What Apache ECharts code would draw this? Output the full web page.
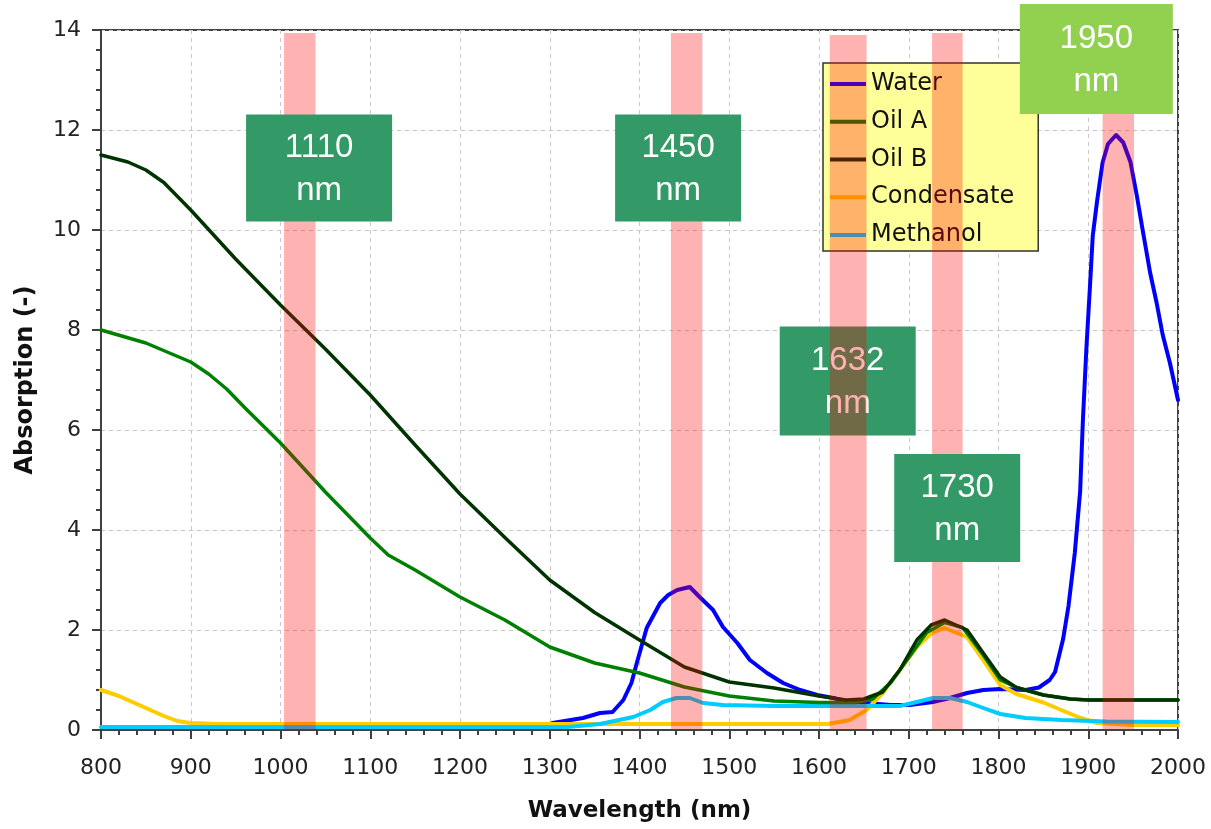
<!DOCTYPE html>
<html>
<head>
<meta charset="utf-8">
<script src="https://cdn.jsdelivr.net/npm/echarts@6/dist/echarts.min.js"></script>
<style>
  html, body { margin: 0; padding: 0; background: #fff; }
  #chart { width: 1211px; height: 829px; }
</style>
</head>
<body>
<div id="chart"></div>
<script>
// 数据
var waterX = [1303, 1337, 1356, 1370, 1382, 1391, 1397, 1408, 1423, 1432, 1442, 1456, 1467, 1482, 1493, 1509, 1523, 1542, 1560, 1579, 1598, 1616, 1634, 1653, 1680, 1701, 1727, 1746, 1765, 1783, 1802, 1830, 1845, 1857, 1863, 1872, 1878, 1885, 1891, 1894, 1898, 1902, 1905, 1910, 1916, 1922, 1931, 1939, 1947, 1954, 1961, 1969, 1976, 1983, 1991, 2000];
var waterY = [0.14, 0.24, 0.34, 0.36, 0.6, 0.94, 1.34, 2.04, 2.54, 2.7, 2.8, 2.86, 2.66, 2.4, 2.06, 1.74, 1.4, 1.14, 0.94, 0.8, 0.7, 0.64, 0.56, 0.54, 0.5, 0.5, 0.56, 0.64, 0.74, 0.8, 0.82, 0.8, 0.85, 1.0, 1.16, 1.82, 2.48, 3.54, 4.78, 6.18, 7.66, 8.9, 9.88, 10.6, 11.35, 11.72, 11.9, 11.75, 11.36, 10.7, 9.96, 9.14, 8.56, 7.9, 7.34, 6.6];

var oilAX = [800, 850, 900, 920, 940, 960, 1000, 1050, 1100, 1120, 1150, 1200, 1250, 1300, 1350, 1400, 1450, 1500, 1550, 1600, 1640, 1660, 1680, 1700, 1720, 1740, 1760, 1783, 1802, 1820, 1850, 1880, 1900, 2000];
var oilAY = [8.0, 7.74, 7.36, 7.12, 6.82, 6.45, 5.74, 4.76, 3.84, 3.5, 3.2, 2.66, 2.2, 1.66, 1.34, 1.14, 0.86, 0.68, 0.58, 0.55, 0.55, 0.62, 0.95, 1.45, 1.95, 2.15, 2.05, 1.5, 1.0, 0.85, 0.7, 0.62, 0.6, 0.6];

var oilBX = [800, 830, 850, 870, 900, 950, 1000, 1050, 1100, 1150, 1200, 1250, 1300, 1350, 1400, 1450, 1500, 1550, 1600, 1630, 1650, 1671, 1690, 1709, 1725, 1740, 1765, 1783, 1802, 1820, 1850, 1880, 1900, 2000];
var oilBY = [11.5, 11.36, 11.2, 10.95, 10.4, 9.42, 8.5, 7.62, 6.7, 5.7, 4.72, 3.85, 3.0, 2.35, 1.8, 1.26, 0.96, 0.84, 0.68, 0.6, 0.62, 0.76, 1.2, 1.8, 2.1, 2.2, 2.0, 1.54, 1.06, 0.85, 0.7, 0.62, 0.6, 0.6];

var condX = [800, 820, 850, 870, 885, 900, 930, 1610, 1634, 1653, 1671, 1690, 1709, 1727, 1740, 1765, 1783, 1802, 1820, 1850, 1870, 1890, 1910, 1950, 2000];
var condY = [0.8, 0.68, 0.44, 0.28, 0.18, 0.14, 0.12, 0.12, 0.2, 0.4, 0.74, 1.2, 1.66, 1.96, 2.04, 1.86, 1.4, 0.9, 0.72, 0.55, 0.4, 0.25, 0.14, 0.1, 0.1];

var methX = [800, 1320, 1356, 1393, 1412, 1426, 1441, 1456, 1471, 1493, 1550, 1690, 1709, 1727, 1746, 1765, 1783, 1802, 1830, 1870, 1920, 2000];
var methY = [0.06, 0.06, 0.12, 0.26, 0.4, 0.56, 0.64, 0.64, 0.54, 0.5, 0.48, 0.48, 0.56, 0.64, 0.64, 0.56, 0.44, 0.32, 0.24, 0.2, 0.17, 0.16];

// 波段 (nm)
var bandStart = [1004, 1435, 1612, 1726, 1916];
var bandEnd = [1039, 1470, 1653, 1760, 1951];
var bandTop = [13.94, 13.94, 13.9, 13.94, 13.94];

// 标注
var annoX = [1043, 1443, 1632, 1754, 1909];
var annoY = [11.24, 11.24, 6.98, 4.44, 13.42];
var annoText = ['1110\nnm', '1450\nnm', '1632\nnm', '1730\nnm', '1950\nnm'];

var xTicks = { min: 800, max: 2000, interval: 100 };
var yTicks = { min: 0, max: 14, interval: 2 };

// 样式
var boxW = [146, 126, 136, 126, 153];
var boxH = [107, 107, 109, 108, 110];
var tickFont = 'Century Gothic, DejaVu Sans, sans-serif';

function zip(xs, ys) {
  return xs.map((x, i) => [x, ys[i]]);
}

function lineSeries(name, xs, ys, color, width) {
  return {
    name,
    type: 'line',
    data: zip(xs, ys),
    showSymbol: false,
    symbol: 'none',
    smooth: false,
    z: 2,
    lineStyle: { color, width, join: 'round', cap: 'round' },
    itemStyle: { color }
  };
}

function annoSeries(indices, z) {
  return {
    type: 'custom',
    z,
    clip: false,
    silent: true,
    data: indices.map(i => [annoX[i], annoY[i], i]),
    encode: { x: 0, y: 1 },
    renderItem(params, api) {
      var i = api.value(2);
      var c = api.coord([api.value(0), api.value(1)]);
      return {
        type: 'group',
        children: [{
          type: 'rect',
          shape: { x: c[0] - boxW[i] / 2, y: c[1] - boxH[i] / 2, width: boxW[i], height: boxH[i] },
          style: { fill: i === 4 ? '#92d050' : '#339966' }
        }, {
          type: 'text',
          style: {
            text: annoText[i],
            x: c[0],
            y: c[1] + 1,
            fill: '#fff',
            font: '33px "Liberation Sans", Arial, sans-serif',
            lineHeight: 43,
            align: 'center',
            verticalAlign: 'middle'
          }
        }]
      };
    }
  };
}

var chart = echarts.init(document.getElementById('chart'), null, { renderer: 'canvas' });

var axisBase = {
  type: 'value',
  nameLocation: 'middle',
  axisLine: { show: true, lineStyle: { color: '#404040', width: 2 } },
  axisTick: { show: true, inside: false, length: 9, lineStyle: { color: '#404040', width: 2 } },
  minorTick: { show: true, splitNumber: 5, length: 5, lineStyle: { color: '#404040', width: 2 } },
  splitLine: { show: true, lineStyle: { color: '#c8c8c8', type: [4, 4], width: 1 } }
};

var nameBase = { fontFamily: 'DejaVu Sans', fontWeight: 'bold', color: '#111' };
var labelBase = { fontFamily: tickFont, fontSize: 22, color: '#222', formatter: v => String(v) };

chart.setOption({
  animation: false,
  backgroundColor: '#fff',
  grid: {
    left: 101, right: 33, top: 30, bottom: 99,
    show: true, borderColor: '#404040', borderWidth: 2, backgroundColor: 'transparent'
  },
  xAxis: $extend(axisBase, {
    min: xTicks.min, max: xTicks.max, interval: xTicks.interval,
    name: 'Wavelength (nm)',
    nameGap: 70,
    nameTextStyle: $extend(nameBase, { fontSize: 23 }),
    axisLabel: $extend(labelBase, { margin: 27 })
  }),
  yAxis: $extend(axisBase, {
    min: yTicks.min, max: yTicks.max, interval: yTicks.interval,
    name: 'Absorption (-)',
    nameGap: 63,
    nameTextStyle: $extend(nameBase, { fontSize: 24 }),
    axisLabel: $extend(labelBase, { margin: 20 })
  }),
  legend: {
    orient: 'vertical',
    left: 823,
    top: 63,
    z: 4,
    data: ['Water', 'Oil A', 'Oil B', 'Condensate', 'Methanol'],
    backgroundColor: '#ffff99',
    borderColor: '#333',
    borderWidth: 1.5,
    padding: [8, 24, 3, 7],
    itemWidth: 36,
    itemHeight: 4,
    itemGap: 11.75,
    icon: 'rect',
    textStyle: { fontFamily: tickFont, fontSize: 24, color: '#111', lineHeight: 26 }
  },
  series: [
    lineSeries('Water', waterX, waterY, '#0000ff', 4),
    lineSeries('Condensate', condX, condY, '#ffcc00', 4),
    lineSeries('Methanol', methX, methY, '#00ccff', 4),
    lineSeries('Oil A', oilAX, oilAY, '#008000', 3.5),
    lineSeries('Oil B', oilBX, oilBY, '#003300', 3.5),
    annoSeries([2], 3),
    {
      type: 'custom',
      z: 5,
      clip: false,
      silent: true,
      data: bandStart.map((s, i) => [s, bandEnd[i], bandTop[i]]),
      encode: { x: [0, 1], y: 2 },
      renderItem(params, api) {
        var p0 = api.coord([api.value(0), api.value(2)]);
        var p1 = api.coord([api.value(1), 0]);
        return {
          type: 'rect',
          shape: { x: p0[0], y: p0[1], width: p1[0] - p0[0], height: p1[1] - p0[1] },
          style: { fill: 'rgba(255,0,0,0.3)' }
        };
      }
    },
    annoSeries([0, 1, 3, 4], 6)
  ]
});

function $extend(a, b) {
  return Object.assign({}, a, b);
}
</script>
</body>
</html>
